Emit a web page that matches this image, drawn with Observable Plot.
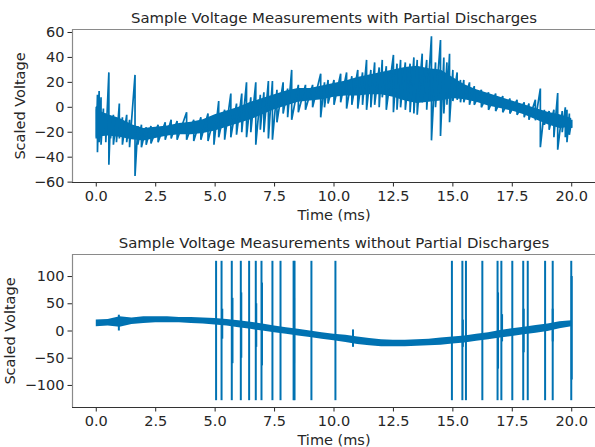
<!DOCTYPE html>
<html><head><meta charset="utf-8">
<script src="https://cdn.jsdelivr.net/npm/d3@7"></script>
<script src="https://cdn.jsdelivr.net/npm/@observablehq/plot@0.6"></script>
<style>body{margin:0;background:#fff;} #c svg{display:block;}</style>
</head><body><div id="c"></div>
<script>
// ---------- shared ----------
const xTicks = [0, 2.5, 5, 7.5, 10, 12.5, 15, 17.5, 20];
const xDomain = [-1, 21];
const titleTop = "Sample Voltage Measurements with Partial Discharges";
const titleBottom = "Sample Voltage Measurements without Partial Discharges";

// ---------- top panel (with partial discharges) ----------
const topYTicks = [-60, -40, -20, 0, 20, 40, 60];
const topYDomain = [-60.3, 62.4];
// dense noise band: time (ms), lower, upper
const topBandT  = [0, 0.5, 1, 1.5, 2, 2.5, 3, 3.5, 4, 4.5, 5, 5.5, 6, 6.5, 7, 7.5, 8, 8.5, 9, 9.5, 10, 10.5, 11, 11.5, 12, 12.5, 13, 13.5, 14, 14.5, 15, 15.5, 16, 16.5, 17, 17.5, 18, 18.5, 19, 19.5, 20];
const topBandLo = [-24, -23, -24, -26, -27, -25, -23, -22, -22, -21, -19, -16, -13, -10, -6, -2, 1, 4, 5, 6, 8, 9, 9, 10, 10, 8, 5, 3, 4, 5, 7, 6, 4, 1, -1, -3, -6, -10, -14, -17, -16];
const topBandHi = [-2, -6, -9, -14, -17, -16, -15, -13, -12, -10, -6, -3, 0, 4, 7, 10, 13, 15, 15, 17, 19, 21, 24, 26, 28, 30, 32, 33, 31, 30, 24, 18, 14, 11, 8, 5, 2, -1, -4, -6, -9];
// individual excursions of the signal: [time, low, high]
const topSpikes = [
  [0.0, -25, 0], [0.05, -36, 10], [0.12, -28, 13], [0.2, -30, 8], [0.3, -18, -1], [0.4, -28, -5],
  [0.53, -46, 28], [0.6, -25, -8], [0.72, -30, -6], [0.85, -28, -10], [0.97, -25, 3], [1.1, -30, -8],
  [1.28, -28, -6], [1.4, -32, -10], [1.63, -55, 26], [1.75, -30, -15], [1.9, -32, -14], [2.1, -30, -16],
  [2.3, -29, -15], [2.6, -28, -14], [2.9, -26, -12], [3.15, -25, -10], [3.4, -26, -11], [3.8, -26, -4],
  [4.1, -27, -10], [4.4, -26, -8], [4.7, -27, -5], [4.95, -30, -8], [5.15, -24, 5], [5.4, -26, -2],
  [5.66, -24, 11], [5.9, -22, 3], [6.12, -20, 11], [6.32, -24, 20], [6.5, -20, 8], [6.71, -30, 20],
  [6.9, -18, 10], [7.05, -20, 12], [7.24, -25, 21], [7.41, -26, 21], [7.6, -12, 14], [7.86, -5, 20],
  [8.05, -8, 15], [8.22, -10, 30], [8.5, -4, 18], [8.8, -2, 18], [9.1, 0, 18], [9.44, -8, 27],
  [9.6, 0, 20], [9.75, 3, 22], [10.0, 2, 22], [10.28, 4, 27], [10.53, -1, 28], [10.75, 2, 25],
  [11.0, -1, 30], [11.2, 2, 28], [11.37, -2, 38], [11.55, 0, 30], [11.71, 2, 36], [11.9, 0, 32],
  [12.03, 8, 38], [12.2, -2, 33], [12.5, -4, 42], [12.65, -2, 35], [12.8, 0, 38], [13.0, -2, 36],
  [13.2, -4, 35], [13.36, -5, 40], [13.5, -6, 38], [13.71, 4, 43], [13.9, -2, 38], [14.1, -26.5, 57],
  [14.27, 0, 36], [14.48, -23, 54], [14.62, -5, 40], [14.75, 2, 36], [14.86, -12, 43], [15.0, 5, 30],
  [15.18, 6, 28], [15.32, 4, 22], [15.46, 4, 22], [15.7, 2, 20], [15.9, 2, 17], [16.2, 0, 14],
  [16.5, -2, 12], [16.8, -3, 11], [17.1, -4, 9], [17.4, -5, 7], [17.7, -6, 6], [18.0, -8, 4],
  [18.2, -10, 3], [18.47, -10.4, 6], [18.68, -32, 15], [18.85, -14, -2], [19.05, -18, -3], [19.25, -24, -2],
  [19.41, -34, 11.5], [19.6, -20, -3], [19.73, -24, 0], [19.8, -28, -2], [19.9, -22, -5], [20.0, -16, -10]
];

// ---------- bottom panel (without partial discharges) ----------
const botYTicks = [-100, -50, 0, 50, 100];
const botYDomain = [-140.5, 140.5];
const botBandT  = [0, 0.5, 1, 1.5, 2, 2.5, 3, 3.5, 4, 4.5, 5, 5.5, 6, 6.5, 7, 7.5, 8, 8.5, 9, 9.5, 10, 10.5, 11, 11.5, 12, 12.5, 13, 13.5, 14, 14.5, 15, 15.5, 16, 16.5, 17, 17.5, 18, 18.5, 19, 19.5, 20];
const botBandLo = [8, 9, 7, 12, 14, 15, 15, 15, 14, 13, 11, 9, 6, 3, 0, -3, -6, -9, -12, -15, -18, -21, -25, -27, -29, -29, -29, -28, -27, -26, -24, -22, -19, -16, -13, -10, -7, -4, -1, 4, 8];
const botBandHi = [20, 21, 26, 24, 26, 26, 26, 25, 25, 24, 23, 21, 19, 16, 13, 9, 6, 3, 0, -3, -6, -8, -11, -14, -16, -17, -17, -16, -15, -13, -11, -9, -6, -3, 1, 4, 7, 10, 13, 17, 19];
// full-scale switching spikes (clipped at ±128)
const botSpikeT = [5.04, 5.27, 5.70, 6.08, 6.43, 6.71, 6.95, 7.41, 7.75, 8.30, 8.34, 9.05, 10.06,
                   14.96, 15.40, 15.55, 16.24, 16.88, 17.04, 17.50, 17.96, 18.15, 18.88, 19.20, 19.98];
const botClip = [-128, 128];
// smaller ringing next to some spikes: [time, low, high]
const botRinging = [
  [0.95, 0, 29], [5.3, -15, 40], [5.73, -60, 60], [6.1, -50, 70], [6.73, -30, 50], [6.97, -64, 88],
  [8.32, -60, 60], [10.8, -30, 2], [15.42, -30, 20], [16.9, -70, 70], [17.07, -20, 30],
  [17.98, -40, 40], [19.2, -20, 40], [20.0, -90, 100]
];

// ---------- drawing ----------
const blue = "#0072B2";
const spineGrey = "#8a8a8a";
const spineDark = "#333333";
const style = {fontFamily: "DejaVu Sans", fontSize: "14.5px", color: "#262626", background: "white", overflow: "visible"};

function band(T, Lo, Hi) { return T.map((t, i) => ({t, lo: Lo[i], hi: Hi[i]})); }
function tuples(A) { return A.map(([t, lo, hi]) => ({t, lo, hi})); }
// the signal trace visits each excursion's high then low point in time order
function trace(A) { return A.flatMap(([t, lo, hi]) => [{t, v: hi}, {t, v: lo}]); }

function panel({title, yTicks, yDomain, marks, yLabelOffset, marginTop, height, marginBottom, titleDy}) {
  return Plot.plot({
    width: 595, height, marginLeft: 72, marginRight: 0, marginTop, marginBottom,
    style,
    x: {domain: xDomain, ticks: xTicks, tickFormat: d3.format(".1f"), tickSize: 4.5, tickPadding: 4,
        label: "Time (ms)", labelAnchor: "center", labelOffset: 37, labelArrow: false},
    y: {domain: yDomain, ticks: yTicks, tickFormat: d3.format("d"), tickSize: 4.5, tickPadding: 3.5,
        label: "Scaled Voltage", labelAnchor: "center", labelOffset: yLabelOffset, labelArrow: false},
    marks: [
      ...marks,
      Plot.ruleX([xDomain[0]], {stroke: spineGrey, strokeWidth: 1.2}),
      Plot.ruleY([yDomain[1]], {stroke: spineGrey, strokeWidth: 1.2}),
      Plot.ruleY([yDomain[0]], {stroke: spineDark, strokeWidth: 1.2}),
      Plot.text([title], {frameAnchor: "top", lineAnchor: "bottom", dy: titleDy, fontSize: 14.9, fill: "#262626"})
    ]
  });
}

const topChart = panel({
  title: titleTop, yTicks: topYTicks, yDomain: topYDomain,
  marks: [
    Plot.areaY(band(topBandT, topBandLo, topBandHi), {x: "t", y1: "lo", y2: "hi", fill: blue}),
    Plot.line(trace(topSpikes), {x: "t", y: "v", stroke: blue, strokeWidth: 1.7, strokeLinejoin: "miter"})
  ],
  yLabelOffset: 57.5, marginTop: 29, height: 224, marginBottom: 42, titleDy: -6.5
});

const botSpikes = botSpikeT.map(t => ({t, lo: botClip[0], hi: botClip[1]}));
const bottomChart = panel({
  title: titleBottom, yTicks: botYTicks, yDomain: botYDomain,
  marks: [
    Plot.areaY(band(botBandT, botBandLo, botBandHi), {x: "t", y1: "lo", y2: "hi", fill: blue}),
    Plot.ruleX(botSpikes, {x: "t", y1: "lo", y2: "hi", stroke: blue, strokeWidth: 2}),
    Plot.ruleX(tuples(botRinging), {x: "t", y1: "lo", y2: "hi", stroke: blue, strokeWidth: 2})
  ],
  yLabelOffset: 67.5, marginTop: 30, height: 223, marginBottom: 40, titleDy: -6.3
});

const c = document.getElementById("c");
c.appendChild(topChart);
c.appendChild(bottomChart);
</script></body></html>
